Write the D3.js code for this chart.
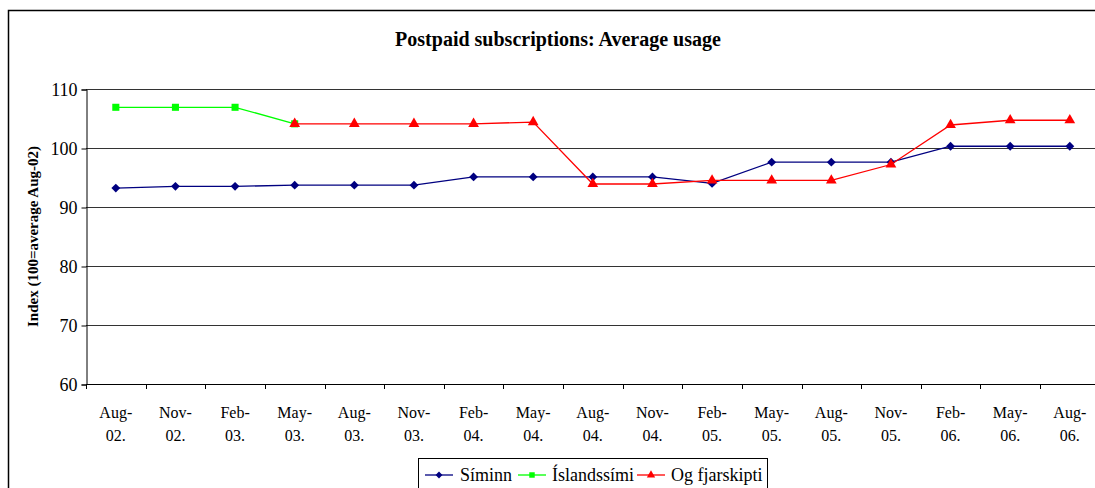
<!DOCTYPE html>
<html lang="en">
<head>
  <meta charset="UTF-8" />
  <title>Postpaid subscriptions: Average usage</title>
  <script src="https://d3js.org/d3.v7.min.js"></script>
  <style>
    html, body { margin: 0; padding: 0; background: #fff; overflow: hidden; }
    svg { display: block; }
    svg text { font-family: "Liberation Serif", "Times New Roman", serif; fill: #000; }
  </style>
</head>
<body>
  <svg width="1095" height="488"></svg>
  <script>
    // ---------------------------------------------------------
    // Data
    // ---------------------------------------------------------
    const categories = ["Aug-02.", "Nov-02.", "Feb-03.", "May-03.", "Aug-03.", "Nov-03.",
      "Feb-04.", "May-04.", "Aug-04.", "Nov-04.", "Feb-05.", "May-05.", "Aug-05.",
      "Nov-05.", "Feb-06.", "May-06.", "Aug-06."];
    const siminn = [93.2, 93.5, 93.5, 93.7, 93.7, 93.7, 95.1, 95.1, 95.1, 95.1, 94.0,
      97.6, 97.6, 97.6, 100.3, 100.3, 100.3];
    const islandssimi = [106.9, 106.9, 106.9, 104.1, null, null, null, null, null, null,
      null, null, null, null, null, null, null];
    const ogFjarskipti = [null, null, null, 104.1, 104.1, 104.1, 104.1, 104.4, 93.9, 93.9,
      94.5, 94.5, 94.5, 97.2, 103.9, 104.7, 104.7];
    const yTicks = [60, 70, 80, 90, 100, 110];

    const series = [
      { name: "Síminn", values: siminn, color: "#000080", symbol: d3.symbolDiamond2 },
      { name: "Íslandssími", values: islandssimi, color: "#00ff00", symbol: d3.symbolSquare },
      { name: "Og fjarskipti", values: ogFjarskipti, color: "#ff0000", symbol: d3.symbolTriangle }
    ];

    const FONT = "Liberation Serif, Times New Roman, serif";

    // ---------------------------------------------------------
    // Layout
    // ---------------------------------------------------------
    const svg = d3.select("svg");
    const plot = { left: 86, top: 89, bottom: 384, band: 59.625 };
    plot.right = plot.left + plot.band * categories.length;

    // chart frame (runs off the right / bottom edge like the original)
    svg.append("rect")
      .attr("x", 8.5).attr("y", 10.5)
      .attr("width", 1200).attr("height", 600)
      .attr("fill", "none").attr("stroke", "#000").attr("stroke-width", 1.5);

    svg.append("text")
      .attr("x", 558).attr("y", 46)
      .attr("text-anchor", "middle")
      .attr("font-family", FONT)
      .attr("font-size", "20px").attr("font-weight", "bold")
      .text("Postpaid subscriptions: Average usage");

    const x = d3.scalePoint()
      .domain(categories)
      .range([plot.left, plot.right])
      .padding(0.5);

    const y = d3.scaleLinear()
      .domain([60, 110])
      .range([plot.bottom, plot.top]);

    // gridlines
    svg.append("g")
      .selectAll("line")
      .data(yTicks.filter(t => t > 60))
      .join("line")
      .attr("x1", plot.left).attr("x2", plot.right)
      .attr("y1", d => Math.round(y(d)) + 0.5).attr("y2", d => Math.round(y(d)) + 0.5)
      .attr("stroke", "#333").attr("stroke-width", 1);

    // y axis
    const yAxis = svg.append("g")
      .attr("transform", `translate(${plot.left + 0.5},0.5)`)
      .call(d3.axisLeft(y).tickValues(yTicks).tickSize(5).tickPadding(4));
    yAxis.select(".domain").attr("stroke", "#000");
    yAxis.selectAll("text")
      .attr("font-family", FONT)
      .attr("font-size", "18px").attr("fill", "#000");

    // x axis: ticks between categories
    const bounds = d3.range(categories.length + 1).map(i => plot.left + i * plot.band);
    svg.append("line")
      .attr("x1", plot.left).attr("x2", plot.right)
      .attr("y1", plot.bottom + 0.5).attr("y2", plot.bottom + 0.5)
      .attr("stroke", "#000");
    svg.append("g")
      .selectAll("line")
      .data(bounds)
      .join("line")
      .attr("x1", d => Math.round(d) + 0.5).attr("x2", d => Math.round(d) + 0.5)
      .attr("y1", plot.bottom).attr("y2", plot.bottom + 5)
      .attr("stroke", "#000");

    const xLabels = svg.append("g")
      .selectAll("text")
      .data(categories)
      .join("text")
      .attr("text-anchor", "middle")
      .attr("font-family", FONT)
      .attr("font-size", "16px");
    xLabels.append("tspan")
      .attr("x", d => x(d)).attr("y", 418)
      .text(d => d.split("-")[0] + "-");
    xLabels.append("tspan")
      .attr("x", d => x(d)).attr("y", 441)
      .text(d => d.split("-")[1]);

    // y axis title
    svg.append("text")
      .attr("transform", `translate(38,${(plot.top + plot.bottom) / 2}) rotate(-90)`)
      .attr("text-anchor", "middle")
      .attr("font-family", FONT)
      .attr("font-size", "15px").attr("font-weight", "bold")
      .text("Index (100=average Aug-02)");

    // ---------------------------------------------------------
    // Lines & markers
    // ---------------------------------------------------------
    const line = d3.line()
      .defined(d => d != null)
      .x((d, i) => x(categories[i]))
      .y(d => y(d));

    series.forEach(s => {
      svg.append("path")
        .datum(s.values)
        .attr("d", line)
        .attr("fill", "none")
        .attr("stroke", s.color)
        .attr("stroke-width", 1.3);

      svg.append("g")
        .selectAll("path")
        .data(s.values.map((v, i) => ({ v, i })).filter(d => d.v != null))
        .join("path")
        .attr("transform", d => `translate(${x(categories[d.i])},${y(d.v)})`)
        .attr("d", d3.symbol().type(s.symbol).size(50))
        .attr("fill", s.color);
    });

    // ---------------------------------------------------------
    // Legend
    // ---------------------------------------------------------
    const legend = svg.append("g");
    legend.append("rect")
      .attr("x", 418.5).attr("y", 458.5)
      .attr("width", 349).attr("height", 40)
      .attr("fill", "#fff").attr("stroke", "#000");

    const legendItems = [
      { s: series[0], x0: 425, tx: 460 },
      { s: series[1], x0: 518, tx: 552 },
      { s: series[2], x0: 637, tx: 671 }
    ];
    legendItems.forEach(it => {
      legend.append("line")
        .attr("x1", it.x0).attr("x2", it.x0 + 28)
        .attr("y1", 475).attr("y2", 475)
        .attr("stroke", it.s.color).attr("stroke-width", 1.3);
      legend.append("path")
        .attr("transform", `translate(${it.x0 + 14},475)`)
        .attr("d", d3.symbol().type(it.s.symbol).size(30))
        .attr("fill", it.s.color);
      legend.append("text")
        .attr("x", it.tx).attr("y", 481)
        .attr("font-family", FONT)
        .attr("font-size", "18px")
        .text(it.s.name);
    });
  </script>
</body>
</html>
